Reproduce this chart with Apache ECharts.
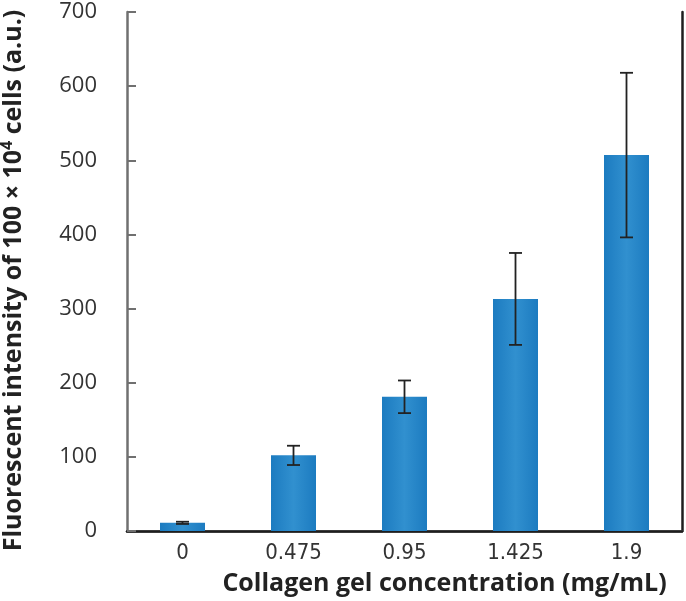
<!DOCTYPE html>
<html>
<head>
<meta charset="utf-8">
<script src="https://cdn.jsdelivr.net/npm/echarts@6/dist/echarts.min.js"></script>
<style>
html,body{margin:0;padding:0;background:#fff;}
#chart{width:686px;height:601px;}
</style>
</head>
<body>
<div id="chart"></div>
<script>
const categories = ['0', '0.475', '0.95', '1.425', '1.9'];
const values = [11, 102, 181, 313, 507];
const errors = [1.5, 13, 22, 62, 111];
const yTicks = [0, 100, 200, 300, 400, 500, 600, 700];

const chart = echarts.init(document.getElementById('chart'));
const errData = categories.map((c, i) => [i, values[i] - errors[i], values[i] + errors[i]]);

const option = {
  animation: false,
  grid: { left: 127, right: 4, top: 12, bottom: 70, containLabel: false, outerBoundsMode: 'none' },
  xAxis: [{
    type: 'category',
    data: categories,
    position: 'bottom',
    axisLine: { show: true, lineStyle: { color: '#707070', width: 2.5 } },
    axisTick: { show: false },
    axisLabel: { color: '#333', fontSize: 22, fontFamily: '"DejaVu Sans Condensed", "Liberation Sans Narrow", "Roboto", sans-serif', margin: 11 },
    name: 'Collagen gel concentration (mg/mL)',
    nameLocation: 'middle',
    nameGap: 40,
    nameTextStyle: { color: '#222', fontSize: 25, fontWeight: 'bold', fontFamily: 'Open Sans', padding: [0, 0, 0, 80] }
  }, {
    type: 'category',
    data: categories,
    position: 'top',
    axisLine: { show: true, lineStyle: { color: '#1e1e1e', width: 2.5 } },
    axisTick: { show: false },
    axisLabel: { show: false }
  }],
  yAxis: [{
    type: 'value',
    min: 0, max: 700, interval: 100,
    axisLine: { show: true, lineStyle: { color: '#707070', width: 2.5 } },
    axisTick: { show: true, inside: true, length: 9, lineStyle: { color: '#707070', width: 2 } },
    splitLine: { show: false },
    axisLabel: {
      color: '#333', fontSize: 22, fontFamily: 'Open Sans', margin: 30,
      formatter: v => yTicks.includes(v) ? String(v) : ''
    },
    name: 'Fluorescent intensity of 100 \u00d7 10{sup|4} cells (a.u.)',
    nameLocation: 'middle',
    nameGap: 98,
    nameTextStyle: {
      color: '#222', fontSize: 25, fontWeight: 'bold', fontFamily: 'Open Sans', lineHeight: 30, padding: [0, 18, 0, 0],
      rich: { sup: { fontSize: 16, fontWeight: 'bold', fontFamily: 'Open Sans', color: '#222', verticalAlign: 'top', lineHeight: 30, padding: [0, 0, 12, 0] } }
    }
  }, {
    type: 'value',
    min: 0, max: 700, interval: 100,
    position: 'right',
    axisLine: { show: true, lineStyle: { color: '#1e1e1e', width: 2.5 } },
    axisTick: { show: false },
    axisLabel: { show: false },
    splitLine: { show: false }
  }],
  series: [{
    type: 'bar',
    data: values,
    barWidth: 45,
    itemStyle: {
      color: new echarts.graphic.LinearGradient(0, 0, 1, 0, [
        { offset: 0, color: '#1c7bc0' },
        { offset: 0.5, color: '#3190cf' },
        { offset: 1, color: '#1c7bc0' }
      ])
    }
  }, {
    type: 'custom',
    data: errData,
    z: 10,
    renderItem: function (params, api) {
      const x = api.value(0);
      const lo = api.coord([x, api.value(1)]);
      const hi = api.coord([x, api.value(2)]);
      const hw = 6.5;
      const style = { stroke: '#222', lineWidth: 1.8 };
      return {
        type: 'group',
        children: [
          { type: 'line', shape: { x1: hi[0], y1: hi[1], x2: lo[0], y2: lo[1] }, style },
          { type: 'line', shape: { x1: hi[0] - hw, y1: hi[1], x2: hi[0] + hw, y2: hi[1] }, style },
          { type: 'line', shape: { x1: lo[0] - hw, y1: lo[1], x2: lo[0] + hw, y2: lo[1] }, style }
        ]
      };
    }
  }]
};
chart.setOption(option);
</script>
</body>
</html>
